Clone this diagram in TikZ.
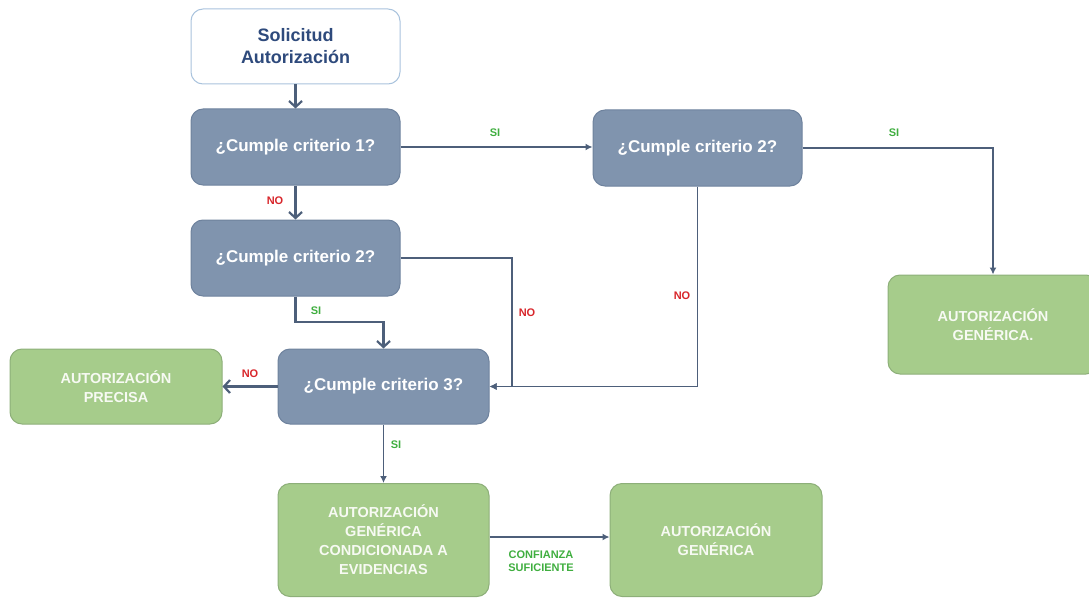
\documentclass[tikz,border=0pt]{standalone}
\usepackage{fontspec}
\setmainfont{Liberation Sans}
\usetikzlibrary{arrows.meta}
\definecolor{decfill}{HTML}{8094AE}
\definecolor{decline}{HTML}{6E829D}
\definecolor{okfill}{HTML}{A6CC8B}
\definecolor{okline}{HTML}{8DAF79}
\definecolor{oktext}{HTML}{F7FAF3}
\definecolor{startline}{HTML}{A9C3DD}
\definecolor{starttext}{HTML}{2E4A7C}
\definecolor{wire}{HTML}{4D5F7A}
\definecolor{yescol}{HTML}{3FAE3F}
\definecolor{nocol}{HTML}{D8262B}
\begin{document}
\begin{tikzpicture}[x=1pt,y=-1pt,
  box/.style={rectangle,rounded corners=12pt,inner sep=0pt,align=center},
  startbox/.style={box,draw=startline,line width=1pt,fill=white,text=starttext,
    font=\fontsize{18}{22}\selectfont\bfseries,minimum width=209pt,minimum height=75pt},
  decbox/.style={box,draw=decline,line width=1pt,fill=decfill,text=white,
    font=\fontsize{17}{20}\selectfont\bfseries,minimum width=209pt,minimum height=76pt},
  okbox/.style={box,draw=okline,line width=1pt,fill=okfill,text=oktext,
    font=\fontsize{14.5}{19}\selectfont\bfseries},
  heavy/.style={draw=wire,line width=2.6pt,-{Straight Barb[length=6pt,width=13pt,line width=2.2pt]}},
  light/.style={draw=wire,line width=1.5pt,-{Latex[length=7pt,width=7pt]}},
  yes/.style={text=yescol,font=\fontsize{11}{13}\selectfont\bfseries,inner sep=0pt,align=center},
  no/.style={text=nocol,font=\fontsize{11}{13}\selectfont\bfseries,inner sep=0pt},
]
\useasboundingbox (0,0) rectangle (1089,599);
\clip (0,0) rectangle (1089,599);

% boxes
\node[startbox] (sol) at (295.5,46.5) {Solicitud\\Autorización};
\node[decbox] (c1) at (295.5,147) {¿Cumple criterio 1?};
\node[decbox] (c2r) at (697.5,148) {¿Cumple criterio 2?};
\node[decbox] (c2l) at (295.5,258) {¿Cumple criterio 2?};
\node[decbox,minimum width=211pt,minimum height=75pt] (c3) at (383.5,386.5) {¿Cumple criterio 3?};
\node[okbox,minimum width=212pt,minimum height=75pt] (prec) at (116,386.5) {AUTORIZACIÓN\\PRECISA};
\node[okbox,minimum width=210pt,minimum height=99pt] (genr) at (993,324.5) {AUTORIZACIÓN\\GENÉRICA.};
\node[okbox,minimum width=211pt,minimum height=113pt] (cond) at (383.5,540) {AUTORIZACIÓN\\GENÉRICA\\CONDICIONADA A\\EVIDENCIAS};
\node[okbox,minimum width=212pt,minimum height=113pt] (genb) at (716,540) {AUTORIZACIÓN\\GENÉRICA};

% bend points
\coordinate (j1) at (512,258);
\coordinate (j2) at (295.5,322);

% connectors
\draw[heavy] (sol) -- (c1);
\draw[light] (c1.east) -- (c1.east -| c2r.west);
\draw[heavy] (c1) -- (c2l);
\draw[heavy] (c2l.south) -- (j2) -| (c3.north);
\draw[light] (c2l.east) -- (j1) |- (c3.east);
\draw[light] (c2r.south) |- (c3.east);
\draw[light] (c2r.east) -| (genr.north);
\draw[heavy] (c3.west) -- (prec.east);
\draw[light] (c3) -- (cond);
\draw[light] ([yshift=3pt]cond.east) -- ([yshift=3pt]genb.west);

% labels
\node[yes] at (495,133) {SI};
\node[no] at (275,201) {NO};
\node[yes] at (316,311) {SI};
\node[no] at (527,313) {NO};
\node[no] at (682,296) {NO};
\node[yes] at (894,133) {SI};
\node[no] at (250,374) {NO};
\node[yes] at (396,445) {SI};
\node[yes] at (541,561) {CONFIANZA\\SUFICIENTE};
\end{tikzpicture}
\end{document}
